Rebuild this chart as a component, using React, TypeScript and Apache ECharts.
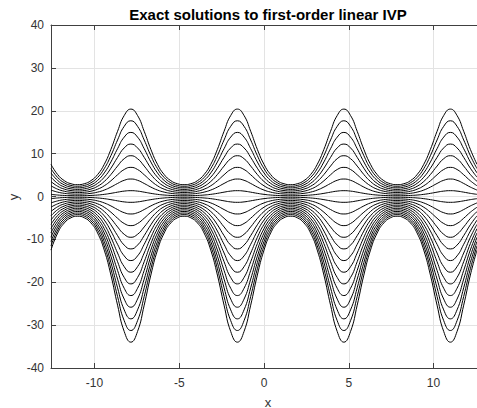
import React, { useEffect, useRef } from "react";
import * as echarts from "echarts";

// Initial values y(x0) of the plotted solutions (value at x = -4π, 0, 4π)
const initialValues = [7.5, 6.5, 5.5, 4.5, 3.5, 2.5, 1.5, 0.5, -0.5, -1.5, -2.5, -3.5, -4.5, -5.5, -6.5, -7.5, -8.5, -9.5, -10.5, -11.5, -12.5];
// Shape multiplier read over one period, sampled every π/8 starting at x = -4π
const profile = [1, 0.682, 0.493, 0.397, 0.368, 0.397, 0.493, 0.682, 1, 1.466, 2.028, 2.519, 2.718, 2.519, 2.028, 1.466];
const periods = 4;
const xStart = -4 * Math.PI;
const xEnd = 4 * Math.PI;
const yMin = -40;
const yMax = 40;
const yStep = 10;

const titleText = "Exact solutions to first-order linear IVP";
const xName = "x";
const yName = "y";

const FONT = '"Liberation Sans", Arial, Helvetica, sans-serif';

export default function App() {
  const ref = useRef<HTMLDivElement>(null);
  useEffect(() => {
    if (!ref.current) return;
    const chart = echarts.init(ref.current, undefined, { renderer: "svg" });
    const n = profile.length;
    const step = (xEnd - xStart) / (n * periods);
    const series = initialValues.map((c, idx) => {
      const data: number[][] = [];
      for (let i = 0; i <= n * periods; i++) {
        data.push([xStart + i * step, c * profile[i % n]]);
      }
      return {
        type: "line",
        name: "C" + idx,
        data,
        showSymbol: false,
        smooth: true,
        lineStyle: { color: "#000", width: 1 },
        silent: true,
      };
    });

    const axisLineStyle = { color: "#404040", width: 1 };
    const grid = { left: 51, right: -8, top: 25, bottom: 40 };

    chart.setOption({
      animation: false,
      backgroundColor: "#fff",
      grid,
      graphic: [
        {
          type: "text",
          x: 268,
          y: 14,
          style: {
            text: titleText,
            align: "center",
            verticalAlign: "middle",
            font: `bold 15px ${FONT}`,
            fill: "#000",
          },
        },
        {
          type: "text",
          x: 268,
          y: 402,
          style: {
            text: xName,
            align: "center",
            verticalAlign: "middle",
            font: `13px ${FONT}`,
            fill: "#333",
          },
        },
        {
          type: "text",
          x: 13,
          y: 197,
          rotation: Math.PI / 2,
          style: {
            text: yName,
            align: "center",
            verticalAlign: "middle",
            font: `13px ${FONT}`,
            fill: "#333",
          },
        },
      ],
      xAxis: [
        {
          type: "value",
          position: "bottom",
          min: xStart,
          max: xEnd,
          axisLine: { show: true, onZero: false, lineStyle: axisLineStyle },
          axisTick: { show: true, inside: true, length: 5, lineStyle: axisLineStyle },
          axisLabel: {
            showMinLabel: false,
            showMaxLabel: false,
            color: "#333",
            fontSize: 12,
            fontFamily: FONT,
            margin: 9,
          },
          splitLine: { show: true, lineStyle: { color: "#e3e3e3", width: 1 } },
        },
        {
          type: "value",
          position: "top",
          min: xStart,
          max: xEnd,
          axisLine: { show: true, onZero: false, lineStyle: axisLineStyle },
          axisTick: { show: true, inside: true, length: 5, lineStyle: axisLineStyle },
          axisLabel: { show: false },
          splitLine: { show: false },
        },
      ],
      yAxis: [
        {
          type: "value",
          position: "left",
          min: yMin,
          max: yMax,
          interval: yStep,
          axisLine: { show: true, onZero: false, lineStyle: axisLineStyle },
          axisTick: { show: true, inside: true, length: 5, lineStyle: axisLineStyle },
          axisLabel: { color: "#333", fontSize: 12, fontFamily: FONT, margin: 7 },
          splitLine: { show: true, lineStyle: { color: "#e3e3e3", width: 1 } },
        },
      ],
      series,
    });
    return () => chart.dispose();
  }, []);
  return (
    <div
      ref={ref}
      style={{ position: "fixed", left: 0, top: 0, width: 477, height: 408, background: "#fff" }}
    />
  );
}
